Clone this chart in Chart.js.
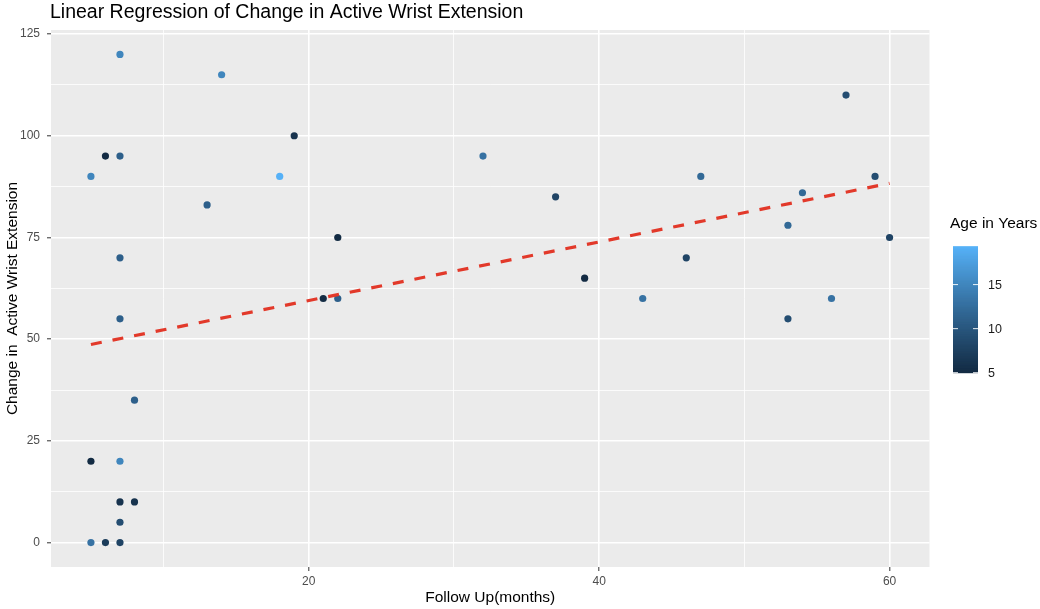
<!DOCTYPE html>
<html>
<head>
<meta charset="utf-8">
<script src="https://cdn.jsdelivr.net/npm/chart.js@4.4.1/dist/chart.umd.min.js"></script>
<style>
  html, body { margin: 0; padding: 0; background: #ffffff; }
  #wrap { width: 1040px; height: 609px; }
</style>
</head>
<body>
<div id="wrap"><canvas id="c" width="1040" height="609"></canvas></div>
<script>
// ---------------- DATA ----------------
const followUp = [7, 14, 6, 7, 5, 19, 13, 18, 7, 7, 8, 5, 7, 7, 8, 7, 5, 6, 7,
                  22, 21, 22, 32, 37, 39, 43, 46, 47, 53, 53, 54, 56, 57, 59, 60];
const changeExt = [120, 115, 95, 95, 90, 100, 83, 90, 70, 55, 35, 20, 20, 10, 10, 5, 0, 0, 0,
                   75, 60, 60, 95, 85, 65, 60, 70, 90, 78, 55, 86, 60, 110, 90, 75];
const ageYears = [15, 15, 5, 11, 15, 6, 11, 19.3, 11, 11, 11, 5, 15, 6, 6, 9, 13, 7, 8,
                  5, 5, 11, 13, 8, 5, 13, 8, 12, 12, 9, 12, 13, 9, 9, 8];
// fitted regression line
const fitX = [5, 60];
const fitY = [48.7, 88.3];
// ticks
const xTicks = [10, 20, 30, 40, 50, 60];
const xLabels = [20, 40, 60];
const yTicks = [0, 12.5, 25, 37.5, 50, 62.5, 75, 87.5, 100, 112.5, 125];
const yLabels = [0, 25, 50, 75, 100, 125];
const legendTicks = [5, 10, 15];
const ageMin = 5, ageMax = 19.3;

// ---------------- COLOUR (Lab interpolation, ggplot default gradient) ----------------
const lowCol = '#132B43', highCol = '#56B1F7';
function hexToRgb(h){ return [parseInt(h.slice(1,3),16), parseInt(h.slice(3,5),16), parseInt(h.slice(5,7),16)]; }
function srgbToLin(c){ c/=255; return c<=0.04045? c/12.92 : Math.pow((c+0.055)/1.055,2.4); }
function linToSrgb(c){ const v = c<=0.0031308? 12.92*c : 1.055*Math.pow(c,1/2.4)-0.055; return Math.max(0,Math.min(255,Math.round(v*255))); }
const Xn=0.95047, Yn=1.0, Zn=1.08883;
function f(t){ return t>0.008856? Math.cbrt(t) : (7.787*t+16/116); }
function finv(t){ return t>0.206893? t*t*t : (t-16/116)/7.787; }
function rgbToLab(rgb){
  const [r,g,b]=rgb.map(srgbToLin);
  const X=0.4124*r+0.3576*g+0.1805*b, Y=0.2126*r+0.7152*g+0.0722*b, Z=0.0193*r+0.1192*g+0.9505*b;
  const fx=f(X/Xn), fy=f(Y/Yn), fz=f(Z/Zn);
  return [116*fy-16, 500*(fx-fy), 200*(fy-fz)];
}
function labToRgb(lab){
  const fy=(lab[0]+16)/116, fx=fy+lab[1]/500, fz=fy-lab[2]/200;
  const X=Xn*finv(fx), Y=Yn*finv(fy), Z=Zn*finv(fz);
  const r= 3.2406*X-1.5372*Y-0.4986*Z, g=-0.9689*X+1.8758*Y+0.0415*Z, b=0.0557*X-0.2040*Y+1.0570*Z;
  return [linToSrgb(r),linToSrgb(g),linToSrgb(b)];
}
const labLow = rgbToLab(hexToRgb(lowCol)), labHigh = rgbToLab(hexToRgb(highCol));
function ageColor(a){
  const t = Math.max(0, Math.min(1, (a-ageMin)/(ageMax-ageMin)));
  const lab = labLow.map((v,i)=> v + (labHigh[i]-v)*t);
  const c = labToRgb(lab);
  return `rgb(${c[0]},${c[1]},${c[2]})`;
}

// ---------------- CHART ----------------
const FONT = '"Liberation Sans", Arial, Helvetica, sans-serif';
const points = followUp.map((x,i)=>({x:x, y:changeExt[i]}));
const pointColors = ageYears.map(ageColor);
const fitData = fitX.map((x,i)=>({x:x, y:fitY[i]}));

const panelBg = {
  id: 'panelBg',
  beforeDraw(chart){
    const {ctx, chartArea:a} = chart;
    ctx.save();
    ctx.fillStyle = '#ffffff';
    ctx.fillRect(0,0,chart.width,chart.height);
    ctx.fillStyle = '#EBEBEB';
    ctx.fillRect(a.left, a.top, a.right-a.left, a.bottom-a.top);
    ctx.restore();
  }
};

const titlePlugin = {
  id: 'ggTitle',
  afterDraw(chart){
    const {ctx, chartArea:a} = chart;
    ctx.save();
    ctx.font = `19.5px ${FONT}`;
    ctx.fillStyle = '#000000';
    ctx.textAlign = 'left';
    ctx.textBaseline = 'alphabetic';
    ctx.fillText('Linear Regression of Change in Active Wrist Extension', a.left - 1, 18);
    ctx.restore();
  }
};

const colorbar = {
  id: 'colorbar',
  afterDraw(chart){
    const {ctx} = chart;
    const bx = 953, bw = 25, top = 246.7, bottom = 372.7;
    const yOf = a => bottom - (a-ageMin)/(ageMax-ageMin)*(bottom-top);
    ctx.save();
    // title
    ctx.font = `15.5px ${FONT}`;
    ctx.fillStyle = '#000000';
    ctx.textAlign = 'left';
    ctx.textBaseline = 'middle';
    ctx.fillText('Age in Years', 950, 224);
    // gradient
    const steps = 200;
    for (let s=0; s<steps; s++){
      const a0 = ageMin + (ageMax-ageMin)*s/steps;
      const a1 = ageMin + (ageMax-ageMin)*(s+1)/steps;
      ctx.fillStyle = ageColor((a0+a1)/2);
      const y1 = yOf(a1), y0 = yOf(a0);
      ctx.fillRect(bx, y1-0.5, bw, (y0-y1)+1);
    }
    // ticks
    ctx.strokeStyle = 'rgba(255,255,255,0.9)';
    ctx.lineWidth = 1;
    ctx.font = `12.5px ${FONT}`;
    ctx.fillStyle = '#1a1a1a';
    legendTicks.forEach(t=>{
      const y = yOf(t);
      ctx.beginPath();
      ctx.moveTo(bx, y); ctx.lineTo(bx+5, y);
      ctx.moveTo(bx+bw-5, y); ctx.lineTo(bx+bw, y);
      ctx.stroke();
      ctx.fillText(String(t), 988, y+1);
    });
    ctx.restore();
  }
};

new Chart(document.getElementById('c'), {
  data: {
    datasets: [
      {
        type: 'line',
        data: fitData,
        borderColor: '#E2392A',
        borderWidth: 3.2,
        borderDash: [11, 11],
        pointRadius: 0,
        fill: false,
        tension: 0,
        order: 0
      },
      {
        type: 'scatter',
        data: points,
        pointBackgroundColor: pointColors,
        pointBorderWidth: 0,
        pointRadius: 3.6,
        pointHoverRadius: 3.6,
        order: 1
      }
    ]
  },
  options: {
    responsive: false,
    animation: false,
    events: [],
    layout: { padding: { left: 0, top: 30, right: 110.5, bottom: 0 } },
    plugins: { legend: { display: false }, tooltip: { enabled: false }, title: { display: false } },
    scales: {
      x: {
        type: 'linear',
        min: 2.25, max: 62.75,
        afterFit(scale){ scale.height = 42; },
        afterBuildTicks(scale){ scale.ticks = xTicks.map(v=>({value:v})); },
        border: { display: false },
        grid: {
          color: '#ffffff',
          lineWidth: ctx => xLabels.includes(ctx.tick && ctx.tick.value) ? 1.6 : 0.8,
          tickColor: ctx => xLabels.includes(ctx.tick && ctx.tick.value) ? '#333333' : 'rgba(0,0,0,0)',
          tickWidth: 1,
          tickLength: 4,
          drawTicks: true
        },
        ticks: {
          autoSkip: false,
          maxRotation: 0,
          padding: 3,
          color: '#4D4D4D',
          font: { family: FONT, size: 12 },
          callback: v => xLabels.includes(v) ? String(v) : ''
        },
        title: {
          display: true,
          text: 'Follow Up(months)',
          color: '#000000',
          font: { family: FONT, size: 15.5 },
          padding: { top: 0, bottom: 2 }
        }
      },
      y: {
        type: 'linear',
        min: -6, max: 126,
        afterFit(scale){ scale.width = 51; },
        afterBuildTicks(scale){ scale.ticks = yTicks.map(v=>({value:v})); },
        border: { display: false },
        grid: {
          color: '#ffffff',
          lineWidth: ctx => yLabels.includes(ctx.tick && ctx.tick.value) ? 1.6 : 0.8,
          tickColor: ctx => yLabels.includes(ctx.tick && ctx.tick.value) ? '#333333' : 'rgba(0,0,0,0)',
          tickWidth: 1,
          tickLength: 4,
          drawTicks: true
        },
        ticks: {
          autoSkip: false,
          padding: 7,
          color: '#4D4D4D',
          font: { family: FONT, size: 12 },
          callback: v => yLabels.includes(v) ? String(v) : ''
        },
        title: {
          display: true,
          text: 'Change in  Active Wrist Extension',
          color: '#000000',
          font: { family: FONT, size: 15.5 },
          padding: { top: 3, bottom: 0 }
        }
      }
    }
  },
  plugins: [panelBg, titlePlugin, colorbar]
});
</script>
</body>
</html>
